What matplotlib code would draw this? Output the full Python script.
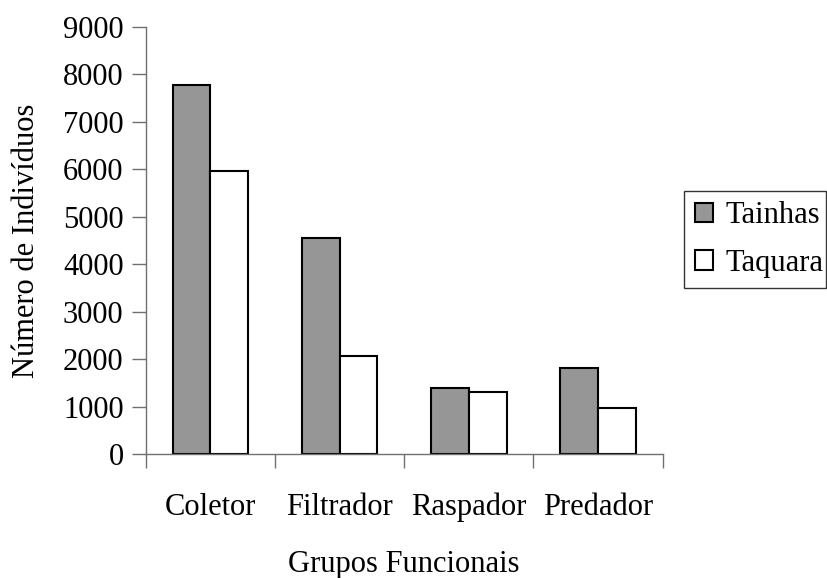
import numpy as np
import matplotlib.pyplot as plt

grupos = ['Coletor', 'Filtrador', 'Raspador', 'Predador']
tainhas = [7780, 4540, 1390, 1810]
taquara = [5970, 2060, 1310, 975]

plt.rcParams['font.family'] = ['Liberation Serif', 'DejaVu Serif']

fig = plt.figure(figsize=(8.28, 5.78), dpi=100)
ax = fig.add_axes([0.176, 0.2145, 0.6244, 0.7393])

x = np.arange(len(grupos))
w = 0.2917
ax.bar(x + 0.5 - w / 2, tainhas, w, color='#969696', edgecolor='black', lw=1.5, label='Tainhas')
ax.bar(x + 0.5 + w / 2, taquara, w, color='white', edgecolor='black', lw=1.5, label='Taquara')

fs = 22
ax.set_xlim(0, 4)
ax.set_ylim(0, 9000)
ax.set_yticks(np.arange(0, 9001, 1000))
ax.set_xticks(np.arange(0, 5))
ax.set_xticklabels([])
ax.set_xticks(x + 0.5, minor=True)
ax.set_xticklabels(grupos, minor=True, fontsize=fs)
ax.tick_params(axis='x', which='minor', length=0, pad=28)
ax.tick_params(axis='x', which='major', length=10, width=1, color='#707070', direction='out')
ax.tick_params(axis='y', length=10, width=1, color='#707070', labelsize=fs, pad=6)

for s in ['top', 'right']:
    ax.spines[s].set_visible(False)
for s in ['left', 'bottom']:
    ax.spines[s].set_color('#707070')
    ax.spines[s].set_linewidth(1)

ax.set_ylabel('Número de Indivíduos', fontsize=fs, labelpad=16)
ax.set_xlabel('Grupos Funcionais', fontsize=fs, labelpad=20)

leg = fig.legend(loc='center left', bbox_to_anchor=(0.8265, 0.504, 0.171, 0.163),
                 mode='expand', fontsize=fs, frameon=True, fancybox=False,
                 handlelength=0.6, handleheight=0.6, handletextpad=0.4,
                 labelspacing=0.6, borderpad=0.35, borderaxespad=0)
leg.get_frame().set_edgecolor('black')
leg.get_frame().set_linewidth(1)

fig.savefig('out.png', dpi=100)
